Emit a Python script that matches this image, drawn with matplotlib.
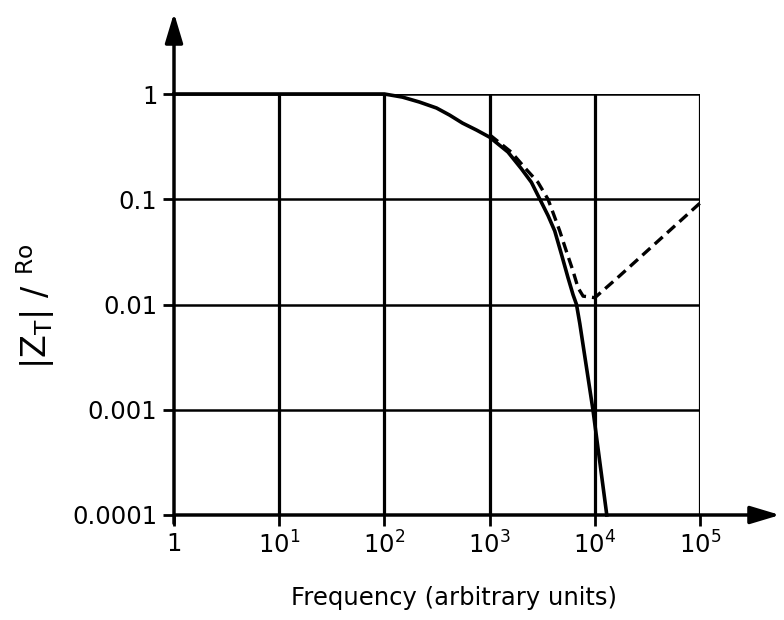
import matplotlib
matplotlib.use("Agg")
import matplotlib.pyplot as plt

DECADES = [1, 10, 100, 1000, 10000, 100000]
X_LABELS = ["1", "$10^{1}$", "$10^{2}$", "$10^{3}$", "$10^{4}$", "$10^{5}$"]
Y_LEVELS = [0.0001, 0.001, 0.01, 0.1, 1]
Y_LABELS = ["0.0001", "0.001", "0.01", "0.1", "1"]

# solid curve
SOLID_F = [1, 100, 148, 215, 313, 416, 553, 752, 1000, 1494, 2004, 2495,
           2995, 3592, 4160, 4820, 5570, 6210, 6700, 7200, 9600, 13000]
SOLID_Z = [1, 1, 0.935, 0.839, 0.736, 0.631, 0.529, 0.454, 0.389, 0.281,
           0.195, 0.145, 0.1007, 0.070, 0.050, 0.030, 0.0179, 0.0124, 0.01,
           0.0066, 0.001, 0.0001]

# dashed curve
DASH_F = [1000, 1610, 2155, 2880, 3590, 3870, 4640, 5370, 6210, 6930, 7740,
          8960, 10000, 16500, 100000]
DASH_Z = [0.41, 0.28, 0.2, 0.145, 0.1, 0.082, 0.05, 0.032, 0.0208, 0.0144,
          0.012, 0.0118, 0.0116, 0.018, 0.092]

plt.rcParams["font.family"] = "DejaVu Sans"
plt.rcParams["mathtext.fontset"] = "dejavusans"

fig = plt.figure(figsize=(7.84, 6.2), dpi=100)
ax = fig.add_axes([174 / 784, 1 - 515 / 620, 526 / 784, 421 / 620])
ax.set_xscale("log")
ax.set_yscale("log")
ax.set_xlim(1, 1e5)
ax.set_ylim(1e-4, 1)

for s in ax.spines.values():
    s.set_visible(False)

# grid
for x in DECADES[1:]:
    ax.plot([x, x], [1e-4, 1], color="k", lw=2.3, solid_capstyle="butt")
for y in Y_LEVELS[1:]:
    ax.plot([1, 1e5], [y, y], color="k", lw=1.8, solid_capstyle="butt")

ax.plot(SOLID_F, SOLID_Z, color="k", lw=2.6, clip_on=False)
ax.plot(DASH_F, DASH_Z, color="k", lw=2.4, dashes=(3.2, 1.8), clip_on=False)

# axes with arrows
arrow = dict(arrowstyle="-|>,head_length=0.9,head_width=0.27",
             color="k", lw=2.5, mutation_scale=20, shrinkA=0, shrinkB=0)
ax.annotate("", xy=(0, 1 + 81 / 421), xytext=(0, -0.02), xycoords="axes fraction",
            arrowprops=arrow, annotation_clip=False)
ax.annotate("", xy=(606 / 526, 0), xytext=(0, 0), xycoords="axes fraction",
            arrowprops=arrow, annotation_clip=False)

ax.minorticks_off()
ax.set_xticks(DECADES)
ax.set_xticklabels(X_LABELS)
ax.set_yticks(Y_LEVELS)
ax.set_yticklabels(Y_LABELS)
ax.tick_params(length=8, width=2, pad=4, labelsize=17.5)

fig.text(454 / 784, 1 - 598 / 620, "Frequency (arbitrary units)",
         ha="center", va="center", fontsize=17.5)
fig.text(36 / 784, 1 - 306 / 620,
         r"$|\mathrm{Z}_{\mathrm{T}}|\ /\ {}^{\mathrm{Ro}}$",
         rotation=90, ha="center", va="center", fontsize=24)

fig.savefig("out.png", dpi=100)
